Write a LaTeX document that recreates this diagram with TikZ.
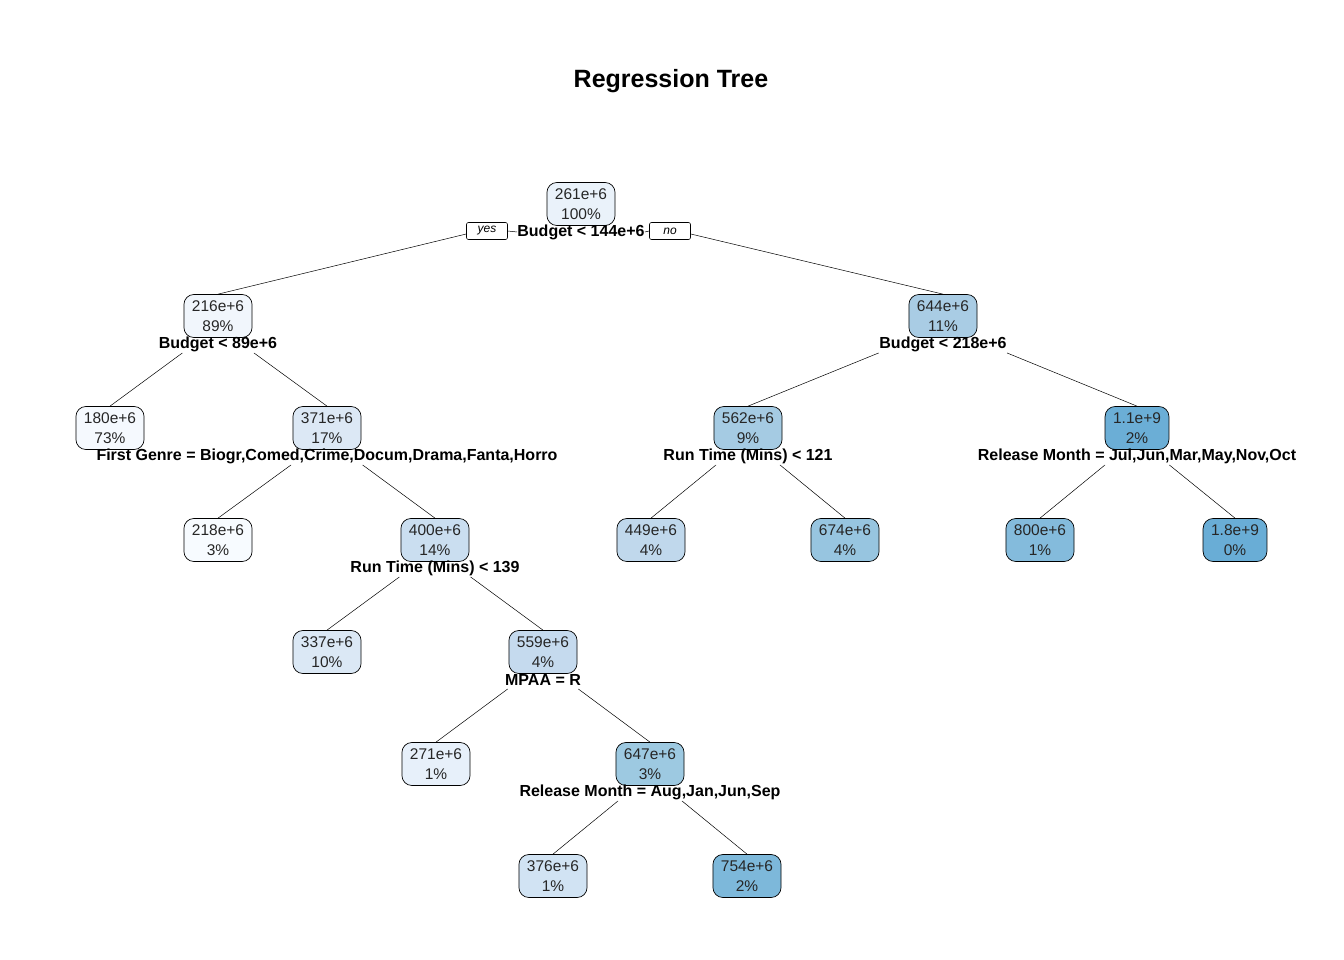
\documentclass[tikz,border=0pt]{standalone}
\usepackage{fontspec}
\setmainfont{Liberation Sans}
\usetikzlibrary{calc}

\definecolor{b1}{HTML}{EAF2FA}
\definecolor{b2}{HTML}{F1F6FC}
\definecolor{b3}{HTML}{A9CCE4}
\definecolor{b4}{HTML}{F5F9FE}
\definecolor{b5}{HTML}{DCE8F5}
\definecolor{b6}{HTML}{A5CBE3}
\definecolor{b7}{HTML}{6BAED6}
\definecolor{b10}{HTML}{F7FBFF}
\definecolor{b11}{HTML}{CADEF0}
\definecolor{b12}{HTML}{C0D8EC}
\definecolor{b13}{HTML}{97C5E0}
\definecolor{b14}{HTML}{84BBDC}
\definecolor{b15}{HTML}{69ADD6}
\definecolor{b22}{HTML}{DBE8F5}
\definecolor{b23}{HTML}{C5DAEE}
\definecolor{b46}{HTML}{E7F0FA}
\definecolor{b47}{HTML}{9DC9E1}
\definecolor{b94}{HTML}{D1E3F3}
\definecolor{b95}{HTML}{7DB8DA}

\begin{document}
\begin{tikzpicture}[x=1pt,y=-1pt]

        % Styles:
        \tikzstyle{treenode}=[draw, line width=0.7pt, rounded corners=10pt,
        align=center, inner xsep=8pt, inner ysep=2pt, minimum height=43pt,
        text=black!85, font=\fontsize{15.5}{20}\selectfont]
        \tikzstyle{splitlabel}=[inner sep=0pt, font=\bfseries\fontsize{16}{18}\selectfont]
        \tikzstyle{yesno}=[draw, line width=0.6pt, rounded corners=2pt, inner sep=0pt,
        minimum width=41pt, minimum height=17pt, font=\itshape\fontsize{12}{12}\selectfont]
        \tikzstyle{treeedge}=[draw, line width=0.5pt, black]

        \newcommand{\leafbox}[3]{node (n#1) [treenode,fill=b#1] {#2\\#3}}
        \newcommand{\splitrule}[2]{node (s#1) [splitlabel] {#2}}
        \newcommand{\treelink}[2]{\path [treeedge] ($(n#1.center)!0.33!(n#2.center)$) -- (n#2.north);}

        \useasboundingbox (0,0) rectangle (1344,960);

        % Title:
        \node (title) at (671,81) [font=\bfseries\fontsize{25}{28}\selectfont] {Regression Tree};

        % Boxes:
        \path (581,204) \leafbox{1}{261e+6}{100\%};
        \path (n1)+(-363,112) \leafbox{2}{216e+6}{89\%};
        \path (n1)+(362,112) \leafbox{3}{644e+6}{11\%};

        \path (n2)+(-108,112) \leafbox{4}{180e+6}{73\%};
        \path (n2)+(109,112) \leafbox{5}{371e+6}{17\%};
        \path (n3)+(-195,112) \leafbox{6}{562e+6}{9\%};
        \path (n3)+(194,112) \leafbox{7}{1.1e+9}{2\%};

        \path (n5)+(-109,112) \leafbox{10}{218e+6}{3\%};
        \path (n5)+(108,112) \leafbox{11}{400e+6}{14\%};
        \path (n6)+(-97,112) \leafbox{12}{449e+6}{4\%};
        \path (n6)+(97,112) \leafbox{13}{674e+6}{4\%};
        \path (n7)+(-97,112) \leafbox{14}{800e+6}{1\%};
        \path (n7)+(98,112) \leafbox{15}{1.8e+9}{0\%};

        \path (n11)+(-108,112) \leafbox{22}{337e+6}{10\%};
        \path (n11)+(108,112) \leafbox{23}{559e+6}{4\%};

        \path (n23)+(-107,112) \leafbox{46}{271e+6}{1\%};
        \path (n23)+(107,112) \leafbox{47}{647e+6}{3\%};

        \path (n47)+(-97,112) \leafbox{94}{376e+6}{1\%};
        \path (n47)+(97,112) \leafbox{95}{754e+6}{2\%};

        % Splits:
        \path (n1)+(0,28) \splitrule{1}{Budget < 144e+6};
        \path (n2)+(0,28) \splitrule{2}{Budget < 89e+6};
        \path (n3)+(0,28) \splitrule{3}{Budget < 218e+6};
        \path (n5)+(0,28) \splitrule{5}{First Genre = Biogr,Comed,Crime,Docum,Drama,Fanta,Horro};
        \path (n6)+(0,28) \splitrule{6}{Run Time (Mins) < 121};
        \path (n7)+(0,28) \splitrule{7}{Release Month = Jul,Jun,Mar,May,Nov,Oct};
        \path (n11)+(0,28) \splitrule{11}{Run Time (Mins) < 139};
        \path (n23)+(0,28) \splitrule{23}{MPAA = R};
        \path (n47)+(0,28) \splitrule{47}{Release Month = Aug,Jan,Jun,Sep};

        \path (n1)+(-94,27) node (yes) [yesno] {yes};
        \path (n1)+(89,27) node (no) [yesno] {no};

        % Lines:
        \path [treeedge] (yes.east) -- (s1.west);
        \path [treeedge] (s1.east) -- (no.west);
        \path [treeedge] ([yshift=-3pt]yes.west) -- (n2.north);
        \path [treeedge] ([yshift=-3pt]no.east) -- (n3.north);

        \treelink{2}{4}
        \treelink{2}{5}
        \treelink{3}{6}
        \treelink{3}{7}
        \treelink{5}{10}
        \treelink{5}{11}
        \treelink{6}{12}
        \treelink{6}{13}
        \treelink{7}{14}
        \treelink{7}{15}
        \treelink{11}{22}
        \treelink{11}{23}
        \treelink{23}{46}
        \treelink{23}{47}
        \treelink{47}{94}
        \treelink{47}{95}
\end{tikzpicture}
\end{document}
